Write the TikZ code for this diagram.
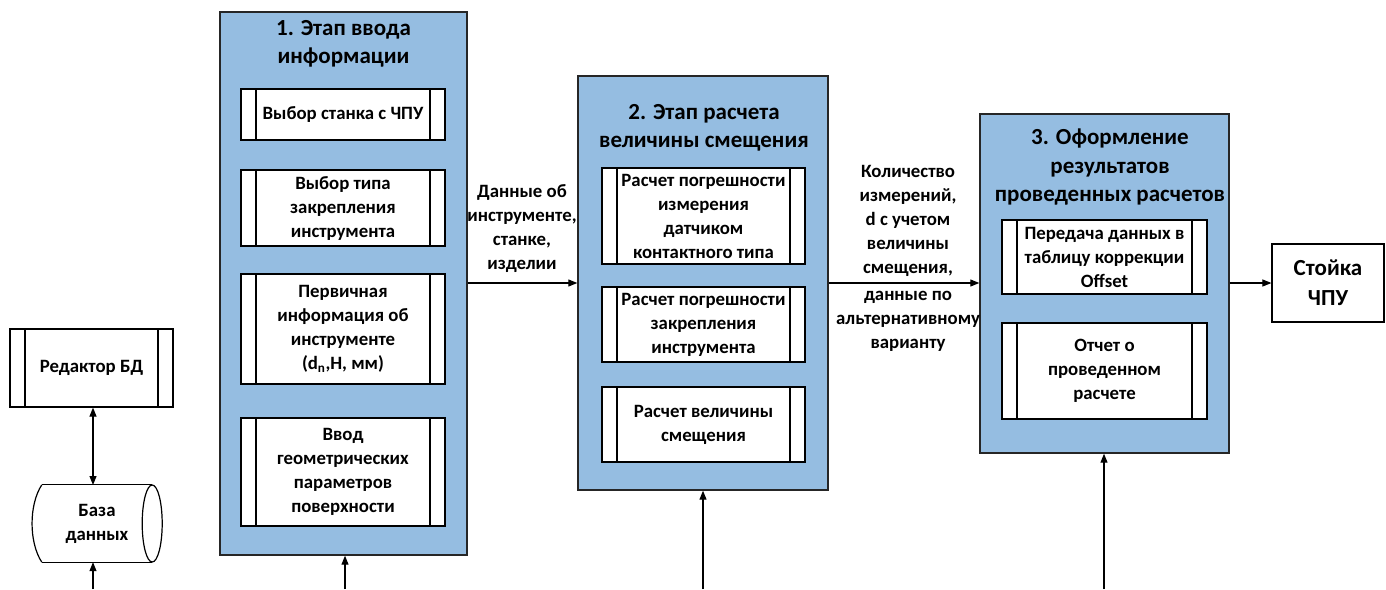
\documentclass[tikz,border=0pt]{standalone}
\usepackage{fontspec}
\setmainfont{Carlito}
\usetikzlibrary{arrows.meta}
\definecolor{stageblue}{RGB}{149,189,225}
\begin{document}
\begin{tikzpicture}[x=1pt,y=-1pt,
  stage/.style={draw=black!85, line width=1.4pt, fill=stageblue, inner sep=0pt},
  stitle/.style={align=center, font=\fontsize{23}{28}\selectfont\bfseries, inner sep=0pt},
  txt/.style={align=center, font=\fontsize{18.8}{24}\selectfont\bfseries, inner sep=0pt},
  proc/.style={draw=black, line width=1.2pt, fill=white, inner sep=0pt, align=center,
    font=\fontsize{18.8}{24}\selectfont\bfseries,
    path picture={\draw[line width=1.2pt]
      ([xshift=15pt]path picture bounding box.north west) -- ([xshift=15pt]path picture bounding box.south west)
      ([xshift=-15pt]path picture bounding box.north east) -- ([xshift=-15pt]path picture bounding box.south east);}},
  plain/.style={draw=black, line width=1.2pt, fill=white, inner sep=0pt, align=center},
  arr/.style={line width=1.1pt, -{Triangle[length=9pt,width=7pt]}},
  darr/.style={line width=1.1pt, {Triangle[length=9pt,width=7pt]}-{Triangle[length=9pt,width=7pt]}},
  cyl/.style={line width=1.2pt}
]
\useasboundingbox (0,0) rectangle (1386,589);

% Stage 1
\node[stage, minimum width=247pt, minimum height=543pt] (s1) at (343.5,283.5) {};
\node[stitle] (s1t) at (343.5,44) {1. Этап ввода\\информации};
\node[proc, minimum width=204pt, minimum height=51pt] (b11) at (343,114.5) {Выбор станка с ЧПУ};
\node[proc, minimum width=204pt, minimum height=76pt] (b12) at (343,208) {Выбор типа\\закрепления\\инструмента};
\node[proc, minimum width=204pt, minimum height=110pt] (b13) at (343,329) {Первичная\\информация об\\инструменте\\(d\textsubscript{n},H, мм)};
\node[proc, minimum width=204pt, minimum height=108pt] (b14) at (343,472) {Ввод\\геометрических\\параметров\\поверхности};

% Stage 2
\node[stage, minimum width=250pt, minimum height=414pt] (s2) at (703,283) {};
\node[stitle] (s2t) at (704,128) {2. Этап расчета\\величины смещения};
\node[proc, minimum width=203pt, minimum height=96pt] (b21) at (703.5,216) {Расчет погрешности\\измерения\\датчиком\\контактного типа};
\node[proc, minimum width=203pt, minimum height=75pt] (b22) at (703.5,324.5) {Расчет погрешности\\закрепления\\инструмента};
\node[proc, minimum width=203pt, minimum height=75pt] (b23) at (703.5,424.5) {Расчет величины\\смещения};

% Stage 3
\node[stage, minimum width=249pt, minimum height=339pt] (s3) at (1104.5,283.5) {};
\node[stitle] (s3t) at (1110,167) {3. Оформление\\результатов\\проведенных расчетов};
\node[proc, minimum width=205pt, minimum height=74pt] (b31) at (1104.5,257) {Передача данных в\\таблицу коррекции\\Offset};
\node[proc, minimum width=205pt, minimum height=96pt] (b32) at (1104.5,371) {Отчет о\\проведенном\\расчете};

% CNC
\node[plain, minimum width=112pt, minimum height=78pt, font=\fontsize{23}{30}\selectfont\bfseries] (cnc) at (1328,283) {Стойка\\ЧПУ};

% DB editor and database
\node[proc, minimum width=163pt, minimum height=78pt] (ed) at (91.5,368) {Редактор БД};
\node[txt, minimum width=110pt, minimum height=77pt] (db) at (97,523.5) {База\\данных};
\draw[cyl] (db.north west) -- (db.north east) (db.south west) -- (db.south east);
\draw[cyl] (db.east) ellipse [x radius=10, y radius=38.5];
\draw[cyl] (db.north west) .. controls +(-13,20) and +(-13,-20) .. (db.south west);

% Labels
\node[txt] (l1) at (522,229) {Данные об\\инструменте,\\станке,\\изделии};
\node[txt] (l2) at (908,221) {Количество\\измерений,\\d с учетом\\величины\\смещения,};
\node[txt] (l3) at (908,321) {данные по\\альтернативному\\варианту};

% Connectors
\draw[arr] (s1.east |- s2.west) -- (s2.west);
\draw[arr] (s2.east) -- (s3.west |- s2.east);
\draw[arr] (s3.east |- cnc.west) -- (cnc.west);
\draw[darr] (ed.south -| 93,0) -- (93,485);

\coordinate (i0) at (93,589);
\coordinate (i1) at (345,589);
\coordinate (i2) at (703,589);
\coordinate (i3) at (1104,589);
\draw[arr] (i0) -- (i0 |- db.south);
\draw[arr] (i1) -- (i1 |- s1.south);
\draw[arr] (i2) -- (i2 |- s2.south);
\draw[arr] (i3) -- (i3 |- s3.south);
\end{tikzpicture}
\end{document}
